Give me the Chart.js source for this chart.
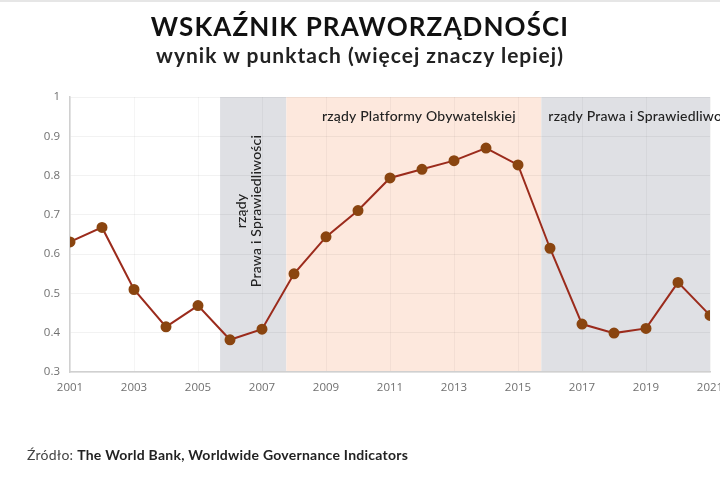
<!DOCTYPE html>
<html><head><meta charset="utf-8">
<script src="https://cdn.jsdelivr.net/npm/chart.js@4/dist/chart.umd.min.js"></script>
<style>
html,body{margin:0;padding:0;background:#fff;width:720px;height:500px;overflow:hidden;font-family:Lato,"Open Sans",sans-serif;}
#wrap{position:absolute;left:0;top:0;width:720px;height:500px;}
#topline{position:absolute;left:0;top:0;width:720px;height:2px;background:#e6e6e6;}
#title{position:absolute;left:0;width:720px;top:10px;text-align:center;font-size:26px;font-weight:700;color:#111;letter-spacing:1.1px;}
#sub{position:absolute;left:0;width:720px;top:42px;text-align:center;font-size:21px;font-weight:700;color:#222;letter-spacing:1px;}
#src{position:absolute;left:27px;top:446px;font-size:14px;color:#444;letter-spacing:0.25px;}
#src b{color:#222;}
</style></head>
<body>
<div id="wrap"><canvas id="c" width="720" height="500"></canvas></div>
<div id="topline"></div>
<div id="title">WSKAŹNIK PRAWORZĄDNOŚCI</div>
<div id="sub">wynik w punktach (więcej znaczy lepiej)</div>
<div id="src">Źródło: <b>The World Bank, Worldwide Governance Indicators</b></div>
<script>
const years = [2001,2002,2003,2004,2005,2006,2007,2008,2009,2010,2011,2012,2013,2014,2015,2016,2017,2018,2019,2020,2021];
const scores = [0.631,0.668,0.510,0.415,0.469,0.382,0.409,0.550,0.644,0.711,0.794,0.816,0.838,0.870,0.827,0.615,0.422,0.399,0.411,0.528,0.444];
const periodStarts = [2005.69, 2007.76, 2015.73];
const periodEnds = [2007.76, 2015.73, 2021];
const periodLabels = [["rządy","Prawa i Sprawiedliwości"], ["rządy Platformy Obywatelskiej"], ["rządy Prawa i Sprawiedliwości"]];
const periodColors = ["#dfe0e4", "#fde8dd", "#dfe0e4"];

const bands = {
  id:'bands',
  beforeDraw(chart){
    const {ctx, chartArea:a, scales:{x}} = chart;
    ctx.save();
    for(let i=0;i<periodStarts.length;i++){
      const x0 = x.getPixelForValue(periodStarts[i]);
      const x1 = x.getPixelForValue(periodEnds[i]);
      ctx.fillStyle = periodColors[i];
      ctx.fillRect(x0, a.top, x1-x0, a.bottom-a.top);
    }
    ctx.restore();
  },
  afterDatasetsDraw(chart){
    const {ctx, chartArea:a, scales:{x}} = chart;
    ctx.save();
    ctx.fillStyle = '#222';
    ctx.font = '500 14px Lato, "Open Sans", sans-serif';
    if ('letterSpacing' in ctx) ctx.letterSpacing = '0.2px';
    const x0 = x.getPixelForValue(periodStarts[0]);
    const x1 = x.getPixelForValue(periodEnds[0]);
    const cx = (x0+x1)/2;
    ctx.translate(cx, 211);
    ctx.rotate(-Math.PI/2);
    ctx.textAlign = 'center';
    ctx.textBaseline = 'middle';
    ctx.fillText(periodLabels[0][0], 0, -11.5);
    ctx.fillText(periodLabels[0][1], 0, 3);
    ctx.setTransform(1,0,0,1,0,0);
    ctx.textBaseline = 'middle';
    ctx.textAlign = 'center';
    const m1 = (x.getPixelForValue(periodStarts[1]) + x.getPixelForValue(periodEnds[1]))/2;
    ctx.fillText(periodLabels[1][0], m1 + 5, 116);
    ctx.textAlign = 'left';
    ctx.fillText(periodLabels[2][0], x.getPixelForValue(periodStarts[2]) + 7, 116);
    ctx.restore();
  }
};

new Chart(document.getElementById('c'), {
  type:'line',
  data:{
    datasets:[{
      data: years.map((y,i)=>({x:y, y:scores[i]})),
      borderColor:'#9b2b1c',
      borderWidth:2,
      pointBackgroundColor:'#8a4510',
      pointBorderColor:'#8a4510',
      pointRadius:4.5,
      tension:0
    }]
  },
  options:{
    responsive:false,
    animation:false,
    events:[],
    layout:{padding:{left:0,right:10,top:97,bottom:100}},
    plugins:{legend:{display:false},tooltip:{enabled:false},title:{display:false}},
    scales:{
      x:{
        type:'linear', min:2001, max:2021,
        grid:{color:'rgba(0,0,0,0.04)', drawTicks:false},
        border:{color:'#d0d0d0', width:1.5},
        ticks:{stepSize:2, color:'#707070', font:{size:11.5, family:'"Open Sans", sans-serif'}, padding:9, callback:v=>String(v), maxRotation:0},
        afterFit(s){ s.height = 28; s.paddingRight = 0; s.paddingLeft = 0; }
      },
      y:{
        min:0.3, max:1,
        grid:{color:'rgba(0,0,0,0.05)', drawTicks:false},
        border:{color:'#d0d0d0', width:1.5},
        ticks:{stepSize:0.1, color:'#707070', font:{size:11.5, family:'"Open Sans", sans-serif'}, padding:10, callback:v=>String(Math.round(v*10)/10)},
        afterFit(s){ s.width = 70; }
      }
    }
  },
  plugins:[bands]
});
</script>
</body></html>
